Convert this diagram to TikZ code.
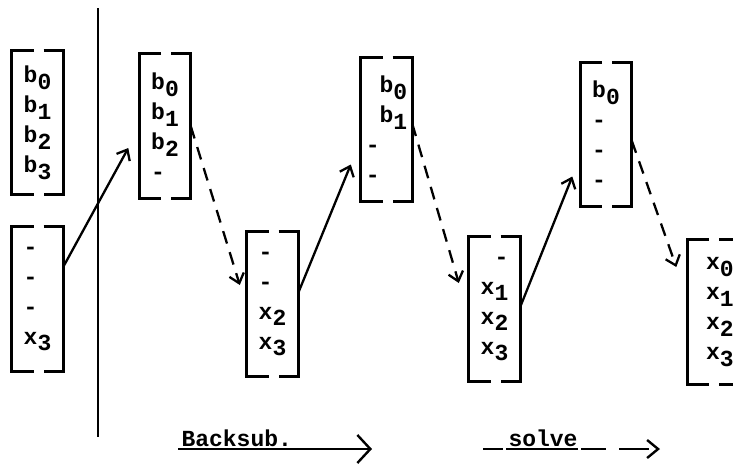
\documentclass[tikz,border=0pt]{standalone}
\usepackage{fontspec}
\setmonofont{Liberation Mono}
\usetikzlibrary{arrows.meta, positioning}

% typed subscript: the digit just drops half a line
\newcommand{\low}[1]{\raisebox{-.3em}{#1}}

\tikzset {
    typed/.style = {
        font = \ttfamily\bfseries\fontsize{23}{30}\selectfont
    },
    vec/.style = {
        typed,
        shape = rectangle,
        minimum width = 51pt,
        minimum height = 144pt,
        inner sep = 0pt,
        align = left
    },
    bracket/.style = {
        line width = 2.8pt
    },
    backsub arrow/.style = {
        -{Straight Barb[length=9pt, width=15pt]},
        line width = 2.3pt
    },
    solve arrow/.style = {
        backsub arrow,
        dash pattern = on 13pt off 9pt
    },
    rule/.style = {
        line width = 2.6pt
    },
    underline/.style = {
        line width = 2.4pt
    }
}

\begin{document}
\begin{tikzpicture}[x=1pt, y=-1pt, on grid]
    \useasboundingbox (0, 0) rectangle (733, 464);

    % Input : right hand side and the unknowns
    \node [vec] at (37.5, 122.5)                        (bin)   {b\low{0}\\b\low{1}\\b\low{2}\\b\low{3}};
    \node [vec, below=176.5pt of bin]                   (xin)   {-\\-\\-\\x\low{3}};

    % Steps : b vectors on top, x vectors below
    \node [vec, below right=3.5pt and 127.5pt of bin]   (b1)    {b\low{0}\\b\low{1}\\b\low{2}\\-};
    \node [vec, below right=178pt and 107.5pt of b1]    (x1)    {-\\-\\x\low{2}\\x\low{3}};
    \node [vec, above right=174.5pt and 114pt of x1]    (b2)    {~b\low{0}\\~b\low{1}\\-\\-};
    \node [vec, below right=179.5pt and 108pt of b2]    (x2)    {~-\\x\low{1}\\x\low{2}\\x\low{3}};
    \node [vec, above right=174.5pt and 111.5pt of x2]  (b3)    {b\low{0}\\-\\-\\-};
    \node [vec, below right=177.5pt and 107pt of b3]    (x3)    {~x\low{0}\\~x\low{1}\\~x\low{2}\\~x\low{3}};

    % Brackets, with the small gap top and bottom
    \foreach \v in {bin, xin, b1, x1, b2, x2, b3, x3} {
        \draw [bracket] ([xshift=-4pt]\v.north) -| (\v.south west) -- ([xshift=-4pt]\v.south);
        \draw [bracket] ([xshift=6pt]\v.north)  -| (\v.south east) -- ([xshift=6pt]\v.south);
    }

    % Divider between input and steps
    \coordinate (divtop) at (98, 8);
    \coordinate (divbot) at (98, 437);
    \draw [rule] (divtop) -- (divbot);

    \draw [backsub arrow]   ([yshift=32pt]xin.east)     --  ([xshift=-11pt, yshift=-22pt]b1.west);
    \draw [solve arrow]     (b1.east)                   --  ([xshift=-7pt, yshift=19pt]x1.west);
    \draw [backsub arrow]   ([yshift=11pt]x1.east)      --  ([xshift=-10pt, yshift=-35pt]b2.west);
    \draw [solve arrow]     ([yshift=6pt]b2.east)       --  ([xshift=-10pt, yshift=26pt]x2.west);
    \draw [backsub arrow]   ([yshift=2pt]x2.east)       --  ([xshift=-8pt, yshift=-42pt]b3.west);
    \draw [solve arrow]     ([yshift=-6pt]b3.east)      --  ([xshift=-11pt, yshift=45pt]x3.west);

    % Legend : underlined labels running into arrows
    \node [typed, anchor=base west] at (178, 446)       (backsub)   {Backsub.};
    \node [typed, anchor=base west] at (505, 446)       (solve)     {solve};
    \coordinate (backsubend) at (372, 449);
    \coordinate (solveend)   at (660, 449);

    \draw [underline, -{Straight Barb[length=13pt, width=28pt]}]
        ([yshift=-3pt]backsub.base west) -- (backsubend);
    \draw [underline, -{Straight Barb[length=11pt, width=18pt]},
           dash pattern = on 20pt off 3pt on 72pt off 3pt on 25pt off 13pt on 30pt]
        ([xshift=-22pt, yshift=-3pt]solve.base west) -- (solveend);
\end{tikzpicture}
\end{document}
